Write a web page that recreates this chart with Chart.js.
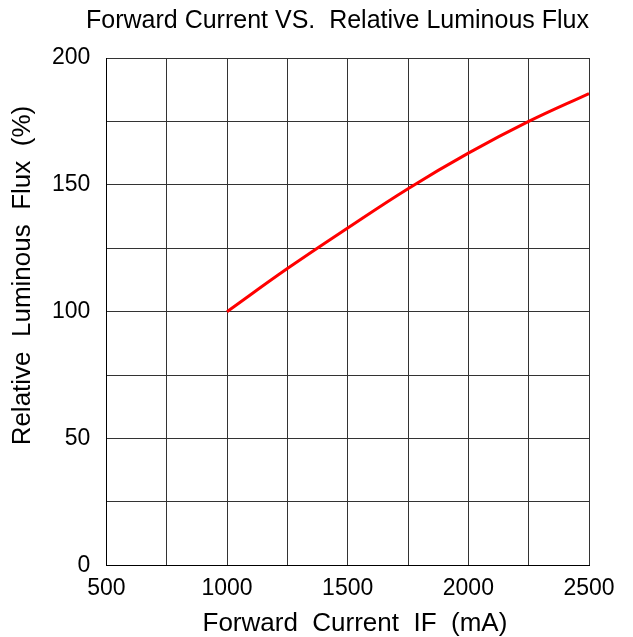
<!DOCTYPE html>
<html>
<head>
<meta charset="utf-8">
<script src="https://cdn.jsdelivr.net/npm/chart.js@4"></script>
<style>
  body { margin: 0; background: #fff; }
  #wrap { width: 633px; height: 637px; }
</style>
</head>
<body>
<div id="wrap"><canvas id="myChart"></canvas></div>
<script>
// forward current (mA) and relative luminous flux (%)
var current = [1000, 1250, 1500, 1750, 2000, 2250, 2500];
var flux = [100, 117, 133, 148.5, 162.5, 175, 186];
var xTicks = [500, 1000, 1500, 2000, 2500];
var yTicks = [0, 50, 100, 150, 200];

var points = current.map(function (c, i) { return { x: c, y: flux[i] }; });
var family = 'Liberation Sans, Arial, sans-serif';
var font = { family: family, size: 23, weight: 'normal' };
var axisFont = { family: family, size: 26, weight: 'normal', lineHeight: 1 };

var ctx = document.getElementById('myChart').getContext('2d');
var myChart = new Chart(ctx, {
    type: 'line',
    data: {
        datasets: [{
            label: 'Relative Luminous Flux',
            data: points,
            borderColor: '#ff0000',
            borderWidth: 3,
            pointRadius: 0,
            tension: 0.4
        }]
    },
    options: {
        responsive: true,
        maintainAspectRatio: false,
        animation: false,
        layout: { padding: { left: 10, right: 44, top: 4, bottom: 0 } },
        plugins: {
            legend: { display: false },
            tooltip: { enabled: false },
            title: {
                display: true,
                align: 'end',
                text: 'Forward Current VS.  Relative Luminous Flux',
                color: '#000',
                font: { family: family, size: 25, weight: 'normal' },
                padding: { top: 2, bottom: 22 }
            }
        },
        scales: {
            x: {
                type: 'linear',
                min: 500,
                max: 2500,
                border: { color: '#000', width: 1 },
                grid: { color: '#333', drawTicks: false },
                ticks: {
                    stepSize: 250,
                    color: '#000',
                    font: font,
                    padding: 9,
                    maxRotation: 0,
                    autoSkip: false,
                    callback: function (v) { return xTicks.indexOf(v) >= 0 ? v : ''; }
                },
                title: {
                    display: true,
                    text: '  Forward  Current  IF  (mA)',
                    color: '#000',
                    font: axisFont,
                    padding: { top: 0, bottom: 0 }
                }
            },
            y: {
                min: 0,
                max: 200,
                border: { color: '#000', width: 1 },
                grid: { color: '#333', drawTicks: false },
                ticks: {
                    stepSize: 25,
                    color: '#000',
                    font: font,
                    padding: 16,
                    autoSkip: false,
                    callback: function (v) { return yTicks.indexOf(v) >= 0 ? v : ''; }
                },
                title: {
                    display: true,
                    text: '          Relative  Luminous  Flux  (%)',
                    color: '#000',
                    font: axisFont,
                    padding: { top: 0, bottom: 0 }
                }
            }
        }
    }
});
</script>
</body>
</html>
